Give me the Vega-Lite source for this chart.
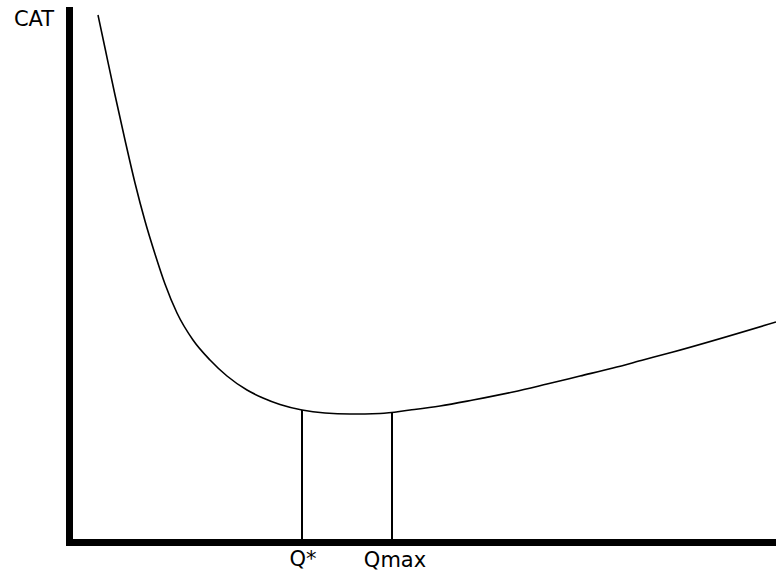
{
  "$schema": "https://vega.github.io/schema/vega-lite/v6.json",
  "width": 707,
  "height": 532,
  "autosize": "none",
  "padding": {"left": 69, "top": 10, "right": 0, "bottom": 32},
  "background": "white",
  "config": {"view": {"stroke": null}},
  "datasets": {
    "curve": [
      {"q": 29, "cat": 527}, {"q": 36, "cat": 494}, {"q": 46, "cat": 447}, {"q": 56, "cat": 402},
      {"q": 66, "cat": 359}, {"q": 76, "cat": 321}, {"q": 86, "cat": 288}, {"q": 96, "cat": 258},
      {"q": 108, "cat": 229}, {"q": 124, "cat": 202}, {"q": 141, "cat": 182}, {"q": 158, "cat": 166},
      {"q": 178, "cat": 152}, {"q": 194, "cat": 144}, {"q": 211, "cat": 137.5}, {"q": 233, "cat": 132},
      {"q": 256, "cat": 129}, {"q": 281, "cat": 128}, {"q": 311, "cat": 128.5}, {"q": 341, "cat": 132},
      {"q": 371, "cat": 136}, {"q": 404, "cat": 142}, {"q": 444, "cat": 150}, {"q": 478, "cat": 158},
      {"q": 511, "cat": 166}, {"q": 544, "cat": 174}, {"q": 574, "cat": 182}, {"q": 604, "cat": 190},
      {"q": 707, "cat": 220}
    ],
    "marks": [
      {"q": 233, "top": 132, "label": "Q*"},
      {"q": 323, "top": 130, "label": "Qmax"}
    ],
    "labels": [
      {"q": -35, "cat": 516, "label": "CAT"},
      {"q": 234, "cat": -24, "label": "Q*"},
      {"q": 326, "cat": -25, "label": "Qmax"}
    ]
  },
  "encoding": {
    "x": {"field": "q", "type": "quantitative", "scale": {"domain": [0, 707], "nice": false, "zero": false},
          "axis": {"title": null, "labels": false, "ticks": false, "grid": false, "domainWidth": 7, "domainColor": "black", "domainCap": "square"}},
    "y": {"field": "cat", "type": "quantitative", "scale": {"domain": [0, 532], "nice": false, "zero": false},
          "axis": {"title": null, "labels": false, "ticks": false, "grid": false, "domainWidth": 7, "domainColor": "black", "domainCap": "square"}}
  },
  "layer": [
    {
      "data": {"name": "curve"},
      "mark": {"type": "line", "color": "black", "strokeWidth": 1.6, "interpolate": "monotone"}
    },
    {
      "data": {"name": "marks"},
      "mark": {"type": "rule", "color": "black", "strokeWidth": 2},
      "encoding": {
        "y": {"field": "top", "type": "quantitative"},
        "y2": {"datum": 0}
      }
    },
    {
      "data": {"name": "labels"},
      "mark": {"type": "text", "font": "DejaVu Sans", "fontSize": 21, "color": "black", "align": "center", "baseline": "alphabetic"},
      "encoding": {"text": {"field": "label"}}
    }
  ]
}
